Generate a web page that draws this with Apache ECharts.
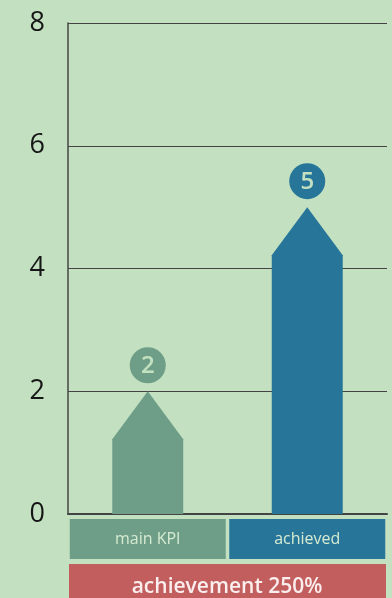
<!DOCTYPE html>
<html>
<head>
<meta charset="utf-8">
<title>achievement</title>
<script src="https://cdn.jsdelivr.net/npm/echarts@6/dist/echarts.min.js"></script>
<style>
  html, body { margin: 0; padding: 0; background: #c3e1c0; }
  #main { width: 392px; height: 598px; }
</style>
</head>
<body>
<div id="main"></div>
<script>
// data
var categories = ['main KPI', 'achieved'];
var values = [2, 5];
var barColors = ['#6e9e88', '#27769a'];
var yTicks = [0, 2, 4, 6, 8];
var summaryText = 'achievement 250%';

var chart = echarts.init(document.getElementById('main'));

// arrow-shaped bar + round value badge
function renderArrow(params, api) {
  var i = api.value(0);
  var base = api.coord([i, 0]);
  var top = api.coord([i, api.value(1)]);
  var half = api.size([1, 0])[0] * 0.445 / 2;
  var shoulder = top[1] + 48;
  var color = barColors[i];
  return {
    type: 'group',
    children: [{
      type: 'polygon',
      shape: {
        points: [
          [base[0] - half, base[1]],
          [base[0] + half, base[1]],
          [base[0] + half, shoulder],
          [top[0], top[1]],
          [base[0] - half, shoulder]
        ]
      },
      style: { fill: color }
    }, {
      type: 'circle',
      shape: { cx: top[0], cy: top[1] - 26, r: 18 },
      style: { fill: color }
    }, {
      type: 'text',
      style: {
        text: String(api.value(1)),
        x: top[0], y: top[1] - 25,
        align: 'center', verticalAlign: 'middle',
        fill: '#c3e1c0', font: '600 24px "Open Sans", sans-serif'
      }
    }]
  };
}

var rich = {};
categories.forEach(function (c, i) {
  rich['c' + i] = {
    backgroundColor: barColors[i],
    color: '#d6eBd2',
    width: 156, height: 40, lineHeight: 40,
    align: 'center',
    fontSize: 16,
    fontFamily: 'Open Sans'
  };
});

chart.setOption({
  backgroundColor: '#c3e1c0',
  animation: false,
  grid: { left: 68, right: 5, top: 23, bottom: 84 },
  xAxis: {
    type: 'category',
    data: categories,
    axisLine: { lineStyle: { color: '#444', width: 2 } },
    axisTick: { show: false },
    axisLabel: {
      margin: 5,
      formatter: function (v) {
        var i = categories.indexOf(v);
        return '{c' + i + '|' + v + '}';
      },
      rich: rich
    }
  },
  yAxis: {
    type: 'value',
    min: yTicks[0], max: yTicks[yTicks.length - 1], interval: 2,
    axisLine: { show: true, lineStyle: { color: '#444', width: 1.5 } },
    axisTick: { show: false },
    splitLine: { lineStyle: { color: '#444', width: 1.2 } },
    axisLabel: { color: '#161616', fontSize: 27, fontWeight: 500, fontFamily: 'Open Sans', margin: 23 }
  },
  series: [{
    type: 'custom',
    renderItem: renderArrow,
    data: values.map(function (v, i) { return [i, v]; }),
    z: 5
  }],
  graphic: [{
    type: 'group',
    left: 69, top: 564,
    children: [{
      type: 'rect',
      shape: { x: 0, y: 0, width: 317, height: 40 },
      style: { fill: '#c35e5e' }
    }, {
      type: 'text',
      style: {
        text: summaryText,
        x: 158, y: 23,
        align: 'center', verticalAlign: 'middle',
        fill: '#fbeeee',
        font: '600 21px "Open Sans", sans-serif'
      }
    }]
  }]
});
</script>
</body>
</html>
